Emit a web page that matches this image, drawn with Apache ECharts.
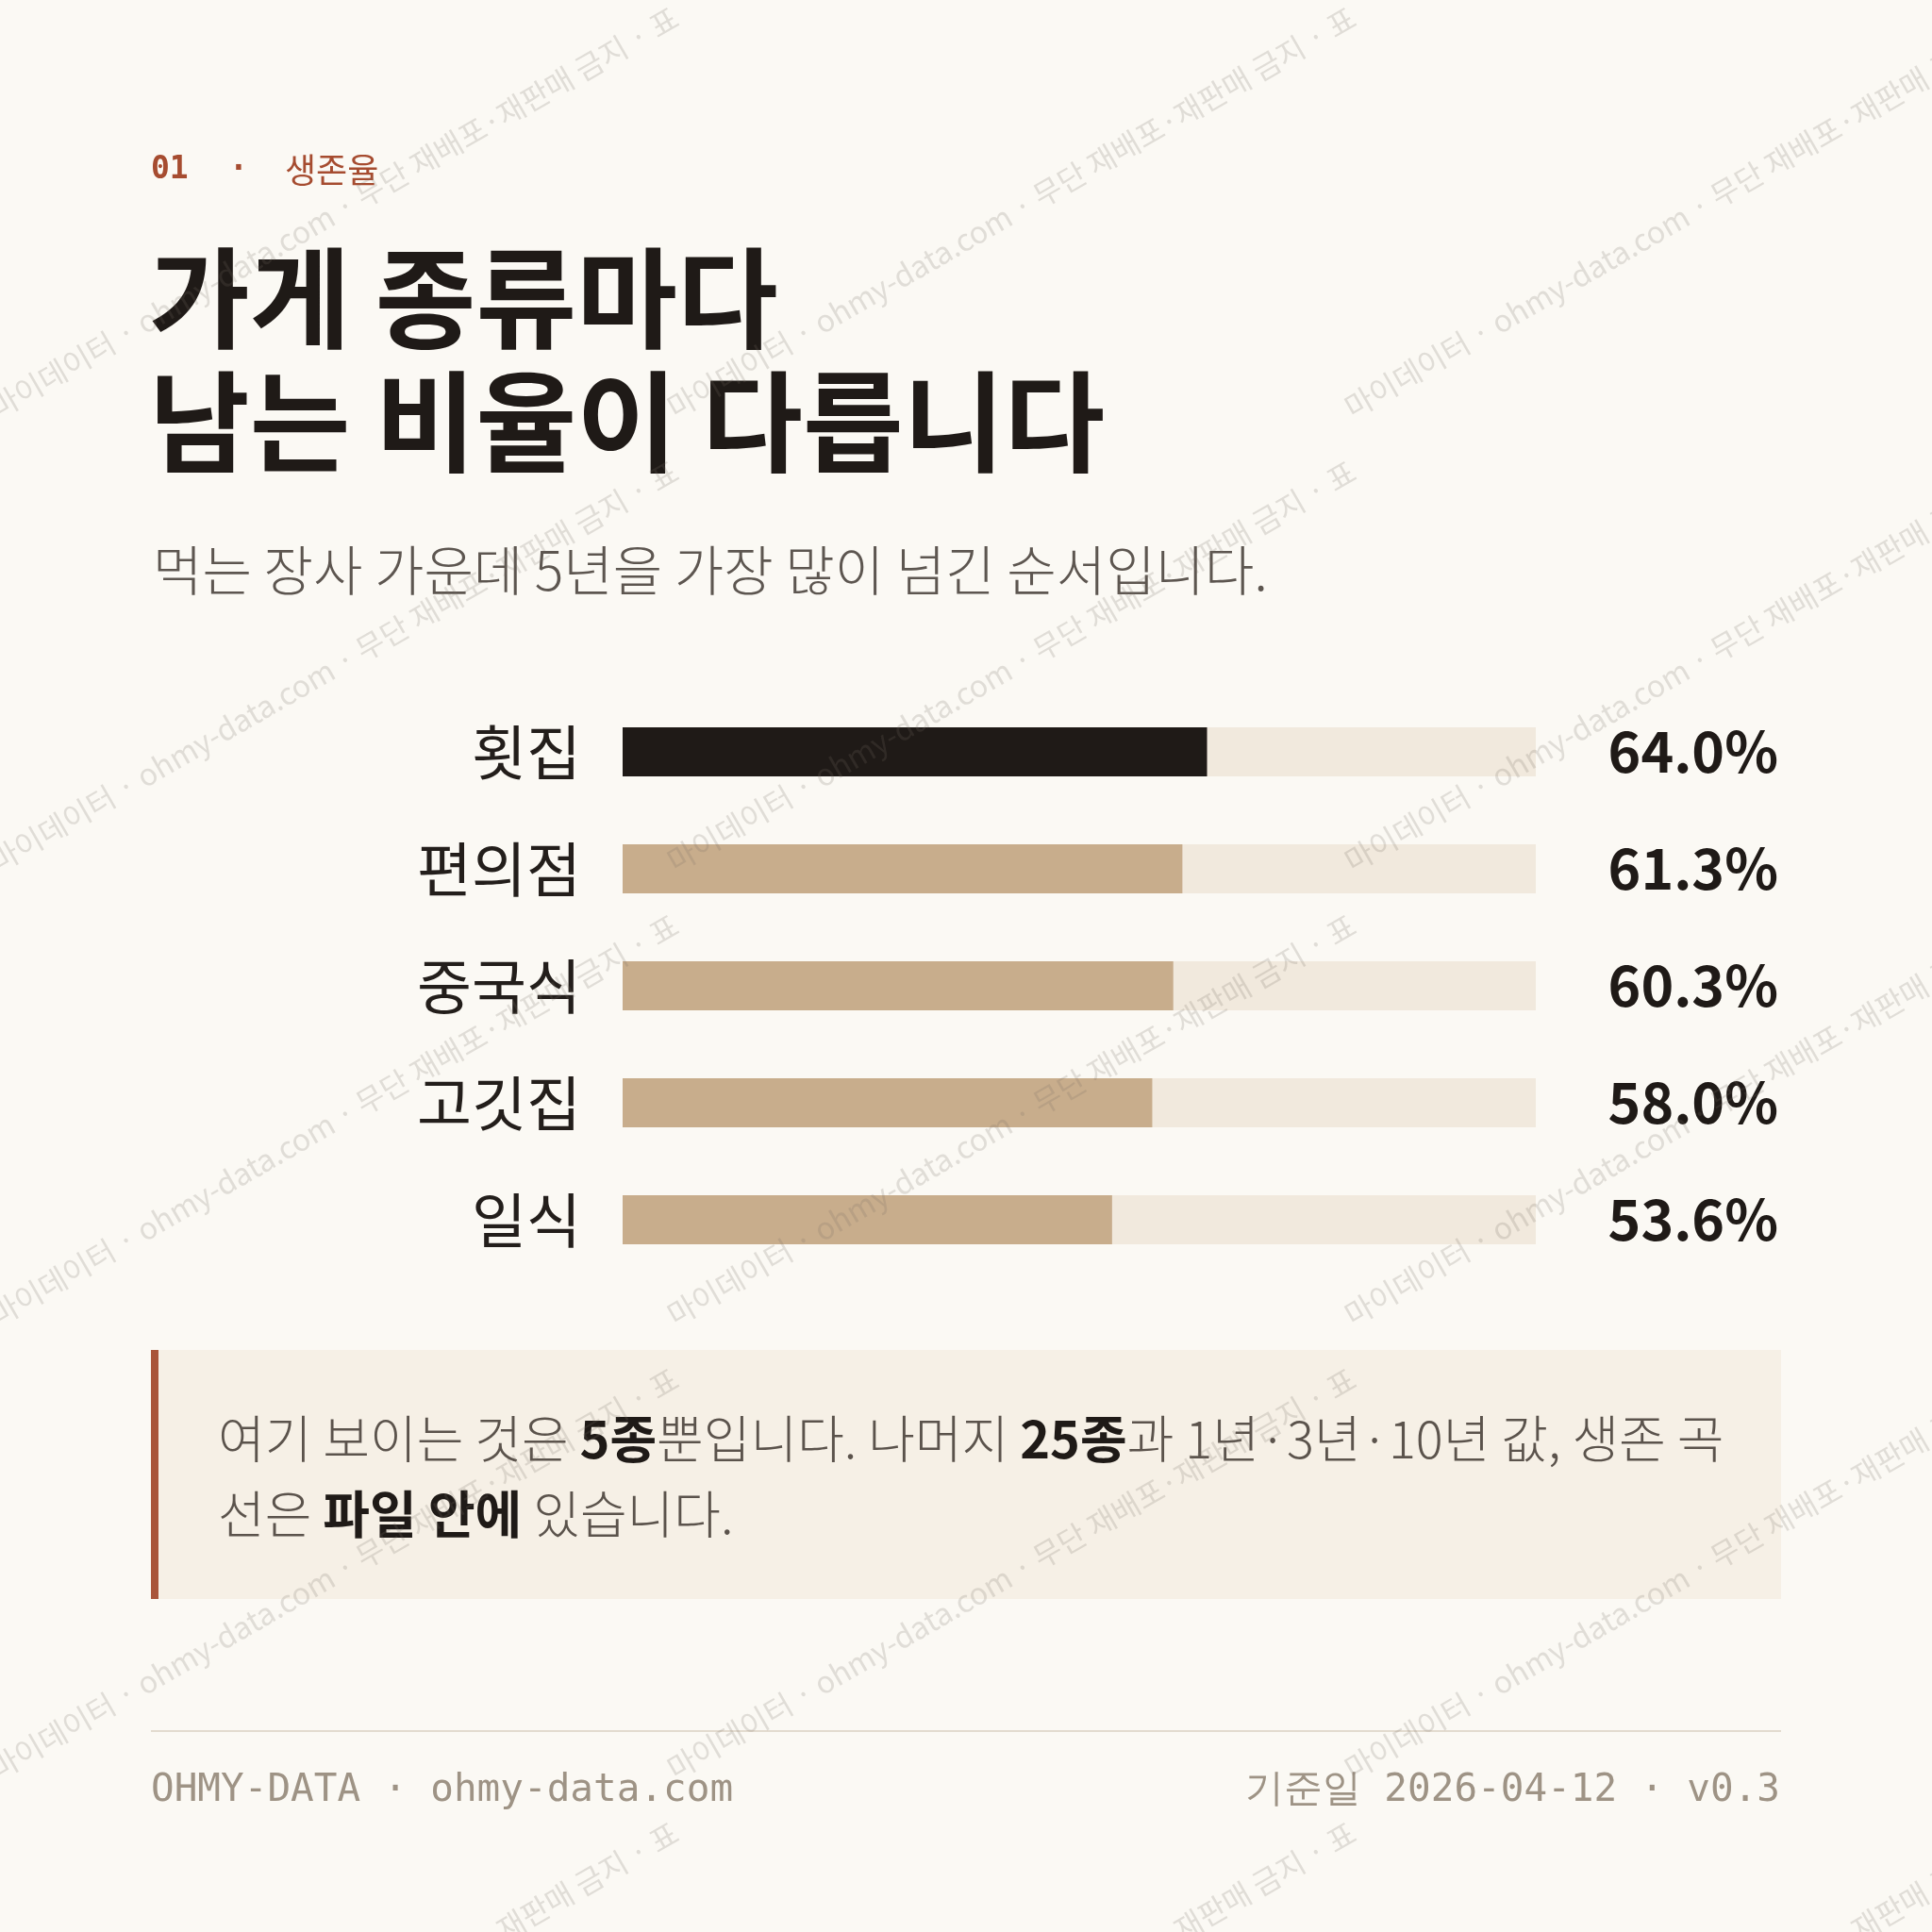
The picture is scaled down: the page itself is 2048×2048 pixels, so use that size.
<!DOCTYPE html>
<html>
<head>
<meta charset="utf-8">
<script src="https://cdn.jsdelivr.net/npm/echarts@6/dist/echarts.min.js"></script>
<style>
  html, body { margin: 0; padding: 0; background: #fbf9f4; }
  #chart { width: 2048px; height: 2048px; }
</style>
</head>
<body>
<div id="chart"></div>
<script>
// 5년 생존율 (%)
const categories = ['횟집', '편의점', '중국식', '고깃집', '일식']
const survival5y = [64.0, 61.3, 60.3, 58.0, 53.6]
const valueLabels = survival5y.map(v => v.toFixed(1) + '%')

const eyebrowNo = '01'
const eyebrowText = '생존율'
const titleLines = ['가게 종류마다', '남는 비율이 다릅니다']
const subtitle = '먹는 장사 가운데 5년을 가장 많이 넘긴 순서입니다.'
const noteLines = [
  '여기 보이는 것은 {b|5종}뿐입니다. 나머지 {b|25종}과 1년·3년·10년 값, 생존 곡',
  '선은 {b|파일 안에} 있습니다.',
]
const footerLeft = 'OHMY-DATA · ohmy-data.com'
const footerRight = '기준일 2026-04-12 · v0.3'
const watermark = '마이데이터 · ohmy-data.com · 무단 재배포·재판매 금지 · 표'

const CJK = '"Noto Sans CJK KR", "Noto Sans", sans-serif'
const MONO = '"DejaVu Sans Mono", "Liberation Mono", monospace'
const INK = '#1f1a17'
const TAN = '#c8ad8c'
const RUST = '#a64c30'

const chart = echarts.init(document.getElementById('chart'))

// diagonal watermark, repeated in tiles
const marks = []
for (let i = 0; i < 3; i++) {
  for (let j = 0; j < 5; j++) {
    marks.push({
      type: 'text',
      x: i * 718,
      y: j * 481 + 448,
      rotation: Math.PI / 6,
      z: 50,
      silent: true,
      style: {
        x: 0,
        y: 0,
        text: watermark,
        fill: 'rgba(120,110,100,0.2)',
        font: '32px ' + CJK,
        textAlign: 'left',
        textVerticalAlign: 'bottom',
      },
    })
  }
}

const option = {
  backgroundColor: '#fbf9f4',
  animation: false,
  grid: { left: 660, right: 420, top: 735, bottom: 693 },
  xAxis: {
    type: 'value',
    min: 0,
    max: 100,
    show: false,
  },
  yAxis: [{
    type: 'category',
    inverse: true,
    data: categories,
    axisLine: { show: false },
    axisTick: { show: false },
    axisLabel: {
      margin: 44,
      color: '#231e1b',
      fontSize: 63,
      fontFamily: CJK,
    },
  }, {
    type: 'category',
    inverse: true,
    position: 'right',
    data: valueLabels,
    axisLine: { show: false },
    axisTick: { show: false },
    axisLabel: {
      margin: 257,
      align: 'right',
      color: INK,
      fontSize: 59,
      fontWeight: 'bold',
      fontFamily: CJK,
    },
  }],
  series: [{
    type: 'bar',
    data: survival5y,
    barWidth: 52,
    showBackground: true,
    backgroundStyle: { color: '#f1e9dd' },
    itemStyle: {
      color: p => (p.dataIndex === 0 ? INK : TAN),
    },
  }],
  graphic: [
    {
      type: 'text', x: 160, y: 180,
      style: { text: eyebrowNo, fill: RUST, font: 'bold 33px ' + MONO, textVerticalAlign: 'middle' },
    },
    {
      type: 'text', x: 253, y: 180,
      style: { text: '·', fill: RUST, font: 'bold 33px ' + MONO, textAlign: 'center', textVerticalAlign: 'middle' },
    },
    {
      type: 'text', x: 302, y: 180,
      style: { text: eyebrowText, fill: RUST, font: '36px ' + CJK, textVerticalAlign: 'middle' },
    },
    {
      type: 'text', x: 158, y: 316,
      style: { text: titleLines[0], fill: INK, font: 'bold 116px ' + CJK, textVerticalAlign: 'middle' },
    },
    {
      type: 'text', x: 158, y: 447,
      style: { text: titleLines[1], fill: INK, font: 'bold 116px ' + CJK, textVerticalAlign: 'middle' },
    },
    {
      type: 'text', x: 162, y: 604,
      style: { text: subtitle, fill: '#5d5650', font: '300 57px ' + CJK, textVerticalAlign: 'middle' },
    },
    // note box
    {
      type: 'rect', z: 1,
      shape: { x: 160, y: 1431, width: 1728, height: 264 },
      style: { fill: '#f6f0e6' },
    },
    {
      type: 'rect', z: 1,
      shape: { x: 160, y: 1431, width: 8, height: 264 },
      style: { fill: '#a9553a' },
    },
    ...noteLines.map((t, k) => ({
      type: 'text', x: 231, y: 1525 + k * 80, z: 2,
      style: {
        text: t,
        fill: '#5b534c',
        font: '300 54px ' + CJK,
        textVerticalAlign: 'middle',
        rich: {
          b: { fill: INK, fontWeight: 'bold', fontSize: 54, fontFamily: CJK },
        },
      },
    })),
    // footer
    {
      type: 'line',
      shape: { x1: 160, y1: 1835, x2: 1888, y2: 1835 },
      style: { stroke: '#e3dbcf', lineWidth: 2 },
    },
    {
      type: 'text', x: 160, y: 1898,
      style: { text: footerLeft, fill: '#9e9385', font: '41px ' + MONO, textVerticalAlign: 'middle' },
    },
    {
      type: 'text', x: 1887, y: 1898,
      style: { text: footerRight, fill: '#9e9385', font: '41px ' + MONO, textAlign: 'right', textVerticalAlign: 'middle' },
    },
    ...marks,
  ],
}

chart.setOption(option)
</script>
</body>
</html>
